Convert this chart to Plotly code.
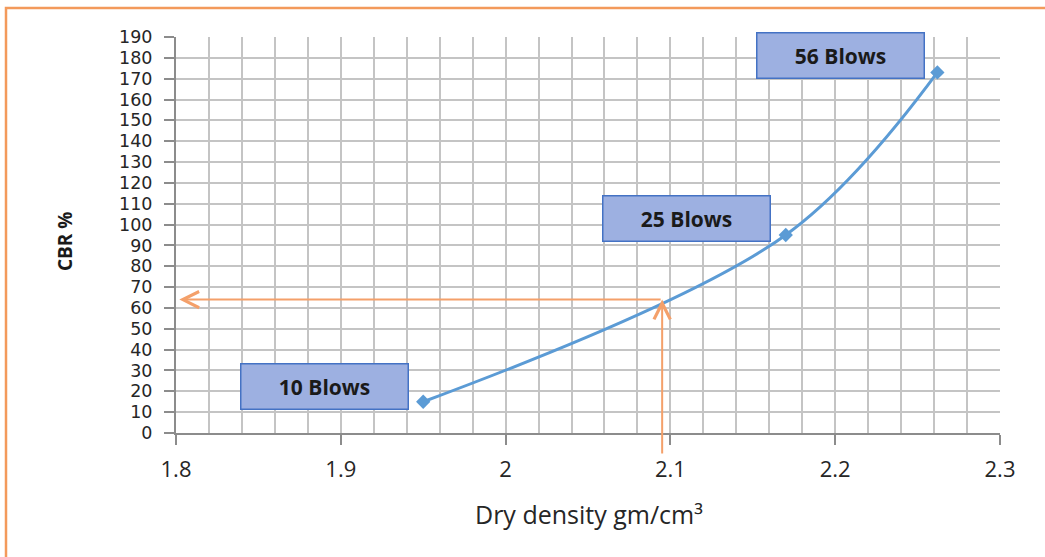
import plotly.graph_objects as go

# CBR test points (dry density vs CBR)
dry_density = [1.95, 2.17, 2.262]
cbr_values = [15, 95, 173]
blow_labels = ["10 Blows", "25 Blows", "56 Blows"]

# label box centres (data coords)
label_x = [1.89, 2.11, 2.203]
label_y = [22.3, 102.7, 180.9]

# design density
target_density = 2.095
target_cbr = 64

# plot area in pixels: x 176..1000, y 37..433
L, R, T, B = 176, 45, 37, 124
W, H = 1045, 557
pw, ph = W - L - R, H - T - B


def px_x(px):
    return (px - L) / pw


def px_y(py):
    return (H - B - py) / ph


fig = go.Figure()

fig.add_trace(go.Scatter(
    x=dry_density, y=cbr_values,
    mode="lines+markers",
    line=dict(color="#5B9BD5", width=3, shape="spline", smoothing=1),
    marker=dict(symbol="diamond", size=11, color="#5B9BD5"),
    showlegend=False,
    cliponaxis=False,
))

annotations = []
for lx, ly, txt in zip(label_x, label_y, blow_labels):
    annotations.append(dict(
        x=lx, y=ly, xref="x", yref="y", text="<b>" + txt + "</b>",
        showarrow=False, width=166, height=44,
        bgcolor="#9DB0E1", bordercolor="#4472C4", borderwidth=1.5, borderpad=0,
        font=dict(family="Open Sans", size=21, color="#1a1a1a"),
    ))

# vertical arrow up from the x axis to the curve
annotations.append(dict(
    x=target_density, y=target_cbr, ax=target_density, ay=-10.5,
    xref="x", yref="y", axref="x", ayref="y", text="",
    showarrow=True, arrowhead=5, arrowsize=1.6, arrowwidth=2, arrowcolor="#F4A06A",
))
# horizontal arrow back to the CBR axis
annotations.append(dict(
    x=1.802, y=target_cbr, ax=target_density, ay=target_cbr,
    xref="x", yref="y", axref="x", ayref="y", text="",
    showarrow=True, arrowhead=5, arrowsize=1.6, arrowwidth=2, arrowcolor="#F4A06A",
))

# axis titles
annotations.append(dict(
    x=px_x(65), y=px_y(242), xref="paper", yref="paper", text="<b>CBR %</b>",
    xanchor="center", yanchor="middle",
    textangle=-90, showarrow=False,
    font=dict(family="Open Sans", size=19, color="#1a1a1a"),
))
annotations.append(dict(
    x=px_x(589), y=px_y(514), xref="paper", yref="paper",
    xanchor="center", yanchor="middle",
    text="Dry density gm/cm³", showarrow=False,
    font=dict(family="Open Sans", size=25, color="#262626"),
))

fig.update_layout(
    width=W, height=H,
    margin=dict(l=L, r=R, t=T, b=B),
    plot_bgcolor="white", paper_bgcolor="white",
    annotations=annotations,
    shapes=[dict(
        type="rect", xref="paper", yref="paper",
        x0=px_x(6), x1=px_x(1100), y0=px_y(600), y1=px_y(8),
        line=dict(color="#F39A5B", width=2.5), fillcolor="rgba(0,0,0,0)",
        layer="below",
    )],
)

fig.update_xaxes(
    range=[1.8, 2.3], dtick=0.1, tick0=1.8,
    showgrid=True, gridcolor="#C4C4C4", gridwidth=2,
    minor=dict(dtick=0.02, showgrid=True, gridcolor="#C4C4C4", gridwidth=2),
    showline=True, linecolor="#8C8C8C", linewidth=2,
    ticks="outside", ticklen=10, tickcolor="#8C8C8C", tickwidth=2,
    ticklabelstandoff=6,
    tickfont=dict(family="Open Sans", size=22, color="#262626"),
    zeroline=False,
)
fig.update_yaxes(
    range=[0, 190], dtick=10,
    showgrid=True, gridcolor="#C4C4C4", gridwidth=2,
    showline=True, linecolor="#8C8C8C", linewidth=2,
    ticks="outside", ticklen=10, tickcolor="#8C8C8C", tickwidth=2,
    ticklabelstandoff=8,
    tickfont=dict(family="DejaVu Sans", size=17.5, color="#262626"),
    zeroline=False,
)

# drop the default page margin so the figure sits at the window origin
fig.write_html("out.html", config={"displayModeBar": False},
               post_script="document.body.style.margin='0';")
